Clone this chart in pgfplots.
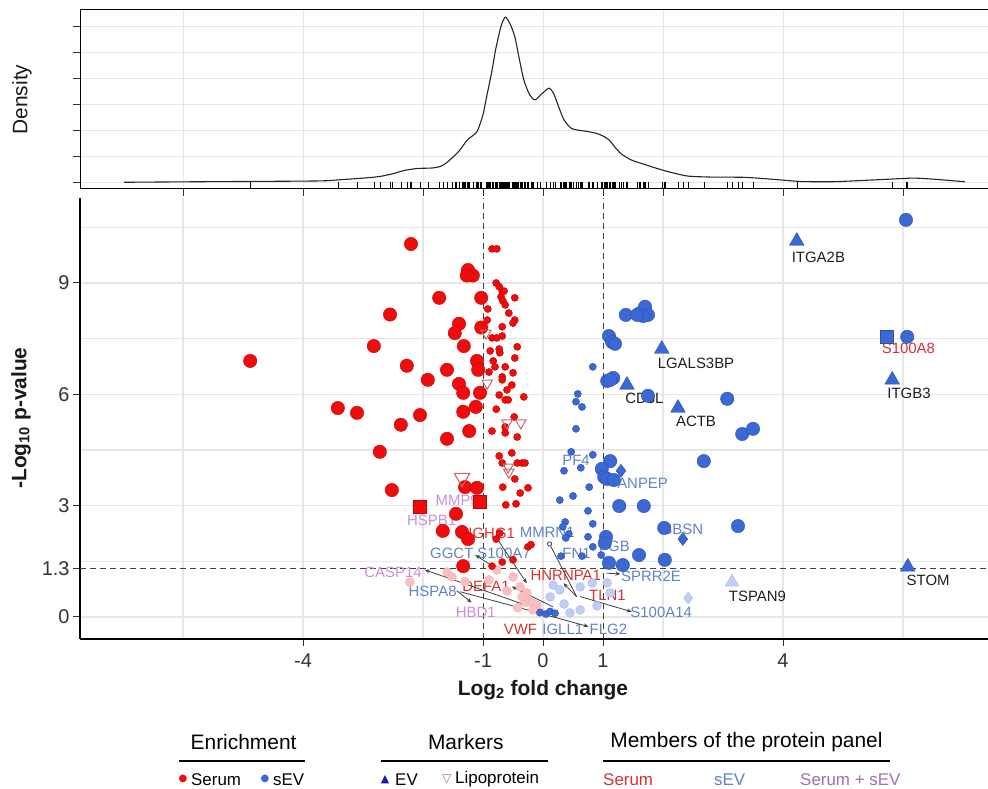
\documentclass[border=0pt]{standalone}
\usepackage{fontspec}
\setmainfont{Liberation Sans}
\newfontfamily\symfont{DejaVu Sans}
\usepackage{pgfplots}
\usepackage{pgfplotstable}
\pgfplotsset{compat=1.18}
\usetikzlibrary{arrows.meta}

\definecolor{ptred}{RGB}{238,12,12}
\definecolor{ptredE}{RGB}{200,0,0}
\definecolor{ptblue}{RGB}{60,104,212}
\definecolor{ptblueE}{RGB}{40,80,185}
\definecolor{fadered}{RGB}{248,192,192}
\definecolor{fadeblue}{RGB}{192,206,242}
\definecolor{lipo}{RGB}{195,105,105}
\definecolor{gridc}{RGB}{230,230,230}
\definecolor{labblack}{RGB}{30,30,30}
\definecolor{labred}{RGB}{215,50,50}
\definecolor{labblue}{RGB}{95,130,200}
\definecolor{labviol}{RGB}{205,140,220}
\definecolor{legviol}{RGB}{160,110,180}
\definecolor{ticktext}{RGB}{50,50,50}

\pgfplotstableread{
x y
-2.2 10.05
-1.25 9.35
-1.17 9.2
-1.27 9.2
-1.73 8.6
-1.03 8.6
-2.55 8.15
-1.4 7.9
-1.47 7.65
-1.03 7.8
-2.82 7.3
-1.32 7.3
-4.88 6.9
-2.27 6.77
-1.6 6.66
-1.1 6.9
-1.08 6.66
-1.92 6.39
-1.4 6.28
-1.33 6.04
-1.05 6.04
-3.42 5.63
-3.1 5.5
-2.05 5.44
-1.33 5.53
-1.12 5.66
-2.37 5.18
-1.23 5.01
-1.6 4.8
-2.72 4.45
-1.3 3.5
-1.1 3.48
-2.52 3.42
-1.45 2.78
-1.67 2.32
-1.35 2.29
-1.25 2.1
-1.33 1.37
}\redbig

\pgfplotstableread{
x y
-0.85 9.92
-0.77 9.92
-0.78 9.0
-0.73 8.9
-0.68 8.78
-0.65 8.78
-0.47 8.6
-0.7 8.63
-0.67 8.52
-0.63 8.41
-0.92 8.3
-0.57 8.19
-0.47 8.0
-0.5 7.92
-0.93 8.0
-0.68 7.82
-0.85 7.52
-0.77 7.52
-0.68 7.57
-0.43 7.28
-0.88 7.17
-0.73 7.22
-0.72 7.12
-0.47 6.98
-0.83 6.9
-0.63 6.74
-0.8 6.74
-0.5 6.58
-0.9 6.6
-0.68 6.47
-0.68 6.39
-0.52 6.25
-0.6 6.12
-0.73 5.98
-0.63 5.85
-0.58 5.85
-0.32 5.93
-0.78 5.6
-0.48 5.39
-0.85 5.01
-0.63 5.12
-0.63 4.96
-0.43 4.85
-0.52 4.42
-0.73 4.34
-0.68 4.15
-0.43 4.15
-0.35 4.15
-0.3 4.15
-0.47 3.72
-0.67 3.5
-0.25 3.48
-0.38 3.34
-0.62 3.02
-0.45 3.05
-0.78 2.1
-0.72 2.26
-0.25 1.89
-0.2 1.95
-0.85 1.37
-0.5 1.54
-0.68 1.48
}\redsmall

\pgfplotstableread{
x y
-2.05 2.96
-1.05 3.1
}\redsq

\pgfplotstableread{
x y
-0.95 7.65
-0.93 6.3
-0.6 5.23
-0.37 5.23
-0.58 4.04
-0.57 3.9
}\lipo

\pgfplotstableread{
x y
-1.35 3.75
}\lipobig

\pgfplotstableread{
x y
-2.22 0.94
-1.6 1.21
-1.52 1.08
-0.5 1.08
-0.38 0.81
-0.27 0.65
-0.25 0.46
-0.18 0.38
-0.1 0.32
-0.05 0.13
-0.3 0.4
-0.17 0.19
-0.77 1.27
-1.3 0.95
-0.9 1.0
-0.6 0.7
-0.42 0.25
-0.35 0.55
}\fadered

\pgfplotstableread{
x y
1.38 8.14
1.62 8.19
1.7 8.36
1.75 8.14
1.67 8.11
1.57 8.14
1.1 7.57
1.15 7.41
1.2 7.36
1.07 6.36
1.17 6.44
1.12 6.39
1.75 5.96
3.07 5.88
3.32 4.93
3.5 5.07
2.68 4.2
1.12 4.2
0.98 3.99
1.02 3.77
1.07 3.72
1.18 3.69
1.27 2.99
1.68 2.99
2.02 2.4
3.25 2.45
1.05 2.16
1.03 1.99
1.6 1.67
2.03 1.54
1.1 1.46
1.33 1.4
6.05 10.7
6.07 7.55
}\bluebig

\pgfplotstableread{
x y
0.83 6.74
0.58 6.01
0.55 5.8
0.65 5.66
0.55 5.07
0.47 4.45
0.83 4.37
0.35 3.94
0.63 4.02
0.77 3.5
0.28 3.15
0.5 3.26
0.75 2.86
0.37 2.56
0.33 2.43
0.43 2.24
0.38 2.13
0.83 2.51
0.75 2.16
0.3 1.64
0.65 1.64
0.83 1.89
0.97 1.67
-0.05 0.12
0.05 0.08
0.12 0.15
0.2 0.1
}\bluesmall

\pgfplotstableread{
x y
1.3 3.94
2.33 2.1
}\bluedia

\pgfplotstableread{
x y
4.23 10.13
1.98 7.22
1.4 6.25
2.25 5.63
5.82 6.39
6.08 1.35
}\bluetri

\pgfplotstableread{
x y
5.73 7.55
}\bluesq

\pgfplotstableread{
x y
0.17 0.86
0.12 0.54
0.28 0.73
0.62 0.81
0.82 0.92
0.45 0.11
0.62 0.19
1.07 0.92
1.12 0.65
0.35 0.35
0.9 0.3
}\fadeblue

\pgfplotstableread{
x y
2.42 0.51
}\fadebluedia

\pgfplotstableread{
x y
3.15 0.94
}\fadebluetri

\pgfplotstableread{
x d
-6.98 0.0
-5.78 0.02
-3.78 0.05
-3.37 0.1
-3.0 0.16
-2.73 0.22
-2.5 0.33
-2.32 0.45
-2.1 0.53
-1.84 0.55
-1.7 0.62
-1.58 0.8
-1.4 1.2
-1.26 1.63
-1.1 1.95
-1.0 2.6
-0.95 3.17
-0.85 4.3
-0.79 5.1
-0.7 6.0
-0.63 6.35
-0.55 6.1
-0.47 5.6
-0.4 4.8
-0.32 3.94
-0.22 3.35
-0.13 3.17
-0.02 3.4
0.1 3.62
0.18 3.4
0.26 2.91
0.35 2.4
0.47 2.08
0.6 2.0
0.75 1.95
0.89 1.88
1.0 1.78
1.1 1.63
1.2 1.35
1.3 1.1
1.47 0.86
1.7 0.68
1.89 0.54
2.1 0.4
2.41 0.24
2.8 0.2
3.36 0.19
3.8 0.12
4.3 0.03
4.8 0.02
5.14 0.05
5.6 0.1
6.04 0.15
6.2 0.16
6.51 0.12
7.03 0.02
}\density

\begin{document}
\begin{tikzpicture}[x=1bp,y=1bp]
\useasboundingbox (0,0) rectangle (988,789);

% ---------- top density panel ----------
\begin{axis}[
  at={(80bp,600bp)}, anchor=south west, scale only axis,
  width=908bp, height=179bp,
  xmin=-7.717, xmax=7.417, ymin=-0.258, ymax=6.627,
  xtick={-6,-4,-2,-1,0,1,2,4,6}, ytick={0,1,2,3,4,5,6},
  xticklabels={}, yticklabels={},
  minor xtick={-6,-4,-2,0,2,4,6}, minor ytick={0,1,2,3,4,5,6},
  xminorgrids, yminorgrids,
  minor grid style={gridc, line width=0.9bp},
  minor tick length=0pt, major tick length=7bp,
  tick align=outside, tick pos=left,
  every tick/.style={black!80, line width=0.9bp},
  axis line style={black, line width=1bp},
  clip=true,
]
\addplot[black!85, line width=1.1bp, smooth, tension=0.4] table[x=x, y=d] {\density};
\addplot[only marks, mark=|, mark size=3.5bp, mark options={black, line width=0.6bp}] table[x=x, y expr=-0.13] {\redbig};
\addplot[only marks, mark=|, mark size=3.5bp, mark options={black, line width=0.6bp}] table[x=x, y expr=-0.13] {\redsmall};
\addplot[only marks, mark=|, mark size=3.5bp, mark options={black, line width=0.6bp}] table[x=x, y expr=-0.13] {\redsq};
\addplot[only marks, mark=|, mark size=3.5bp, mark options={black, line width=0.6bp}] table[x=x, y expr=-0.13] {\lipo};
\addplot[only marks, mark=|, mark size=3.5bp, mark options={black, line width=0.6bp}] table[x=x, y expr=-0.13] {\fadered};
\addplot[only marks, mark=|, mark size=3.5bp, mark options={black, line width=0.6bp}] table[x=x, y expr=-0.13] {\bluebig};
\addplot[only marks, mark=|, mark size=3.5bp, mark options={black, line width=0.6bp}] table[x=x, y expr=-0.13] {\bluesmall};
\addplot[only marks, mark=|, mark size=3.5bp, mark options={black, line width=0.6bp}] table[x=x, y expr=-0.13] {\bluedia};
\addplot[only marks, mark=|, mark size=3.5bp, mark options={black, line width=0.6bp}] table[x=x, y expr=-0.13] {\bluetri};
\addplot[only marks, mark=|, mark size=3.5bp, mark options={black, line width=0.6bp}] table[x=x, y expr=-0.13] {\fadeblue};
\addplot[only marks, mark=|, mark size=3.5bp, mark options={black, line width=0.6bp}] table[x=x, y expr=-0.13] {\fadebluedia};
\addplot[only marks, mark=|, mark size=3.5bp, mark options={black, line width=0.6bp}] table[x=x, y expr=-0.13] {\fadebluetri};
\end{axis}

% ---------- main volcano panel ----------
\begin{axis}[
  at={(80bp,150bp)}, anchor=south west, scale only axis,
  width=908bp, height=441bp,
  xmin=-7.717, xmax=7.417, ymin=-0.593, ymax=11.29,
  axis x line*=bottom, axis y line*=left,
  axis line style={-, black, line width=1.3bp},
  xtick={-4,-1,0,1,4}, xticklabels={-4,-1,0,1,4},
  ytick={0,1.3,3,6,9}, yticklabels={0,1.3,3,6,9},
  minor xtick={-6,-4,-2,0,2,4,6}, minor ytick={0,1.5,3,4.5,6,7.5,9,10.5},
  xminorgrids, yminorgrids,
  minor grid style={gridc, line width=1.6bp},
  minor tick length=0pt, major tick length=7bp, tick align=outside,
  every tick/.style={black!80, line width=1bp},
  tick label style={font=\fontsize{20}{24}\selectfont, text=ticktext},
  xticklabel style={yshift=-4bp},
  clip=false,
]
% threshold lines
\addplot[black!75, line width=1bp, dash pattern=on 6bp off 4bp] coordinates {(-1,-0.593) (-1,11.29)};
\addplot[black!75, line width=1bp, dash pattern=on 6bp off 4bp] coordinates {(1,-0.593) (1,11.29)};
\addplot[black!75, line width=1bp, dash pattern=on 6bp off 4bp] coordinates {(-7.717,1.3) (7.417,1.3)};

% faded (non-significant) points
\addplot[only marks, mark=*, mark size=4.5bp, mark options={fill=fadered, draw=fadered!90!red}] table {\fadered};
\addplot[only marks, mark=*, mark size=4.5bp, mark options={fill=fadeblue, draw=fadeblue!90!blue}] table {\fadeblue};
\addplot[only marks, mark=diamond*, mark size=6bp, mark options={fill=fadeblue, draw=fadeblue!90!blue}] table {\fadebluedia};
\addplot[only marks, mark=triangle*, mark size=8bp, mark options={fill=fadeblue, draw=fadeblue!90!blue}] table {\fadebluetri};

% gene labels
\begin{scope}[every node/.style={font=\fontsize{15}{18}\selectfont, inner sep=0pt}]
\node[text=labblack] at (axis cs:4.59,9.7) {ITGA2B};
\node[text=labblack] at (axis cs:2.55,6.84) {LGALS3BP};
\node[text=labblack] at (axis cs:1.69,5.9) {CD5L};
\node[text=labblack] at (axis cs:2.55,5.26) {ACTB};
\node[text=labred] at (axis cs:6.09,7.24) {S100A8};
\node[text=labblack] at (axis cs:6.1,6.03) {ITGB3};
\node[text=labblack] at (axis cs:6.42,0.98) {STOM};
\node[text=labblack] at (axis cs:3.575,0.55) {TSPAN9};
\node[text=labblue] at (axis cs:0.55,4.23) {PF4};
\node[text=labblue] at (axis cs:1.66,3.6) {ANPEP};
\node[text=labblue] at (axis cs:2.33,2.35) {SBSN};
\node[text=labblue] at (axis cs:1.19,1.91) {FGB};
\node[text=labblue] at (axis cs:0.56,1.72) {FN1};
\node[text=labblue] at (axis cs:0.07,2.27) {MMRN1};
\node[text=labblue] at (axis cs:-0.65,1.72) {S100A7};
\node[text=labblue] at (axis cs:-1.52,1.72) {GGCT};
\node[text=labred] at (axis cs:-0.855,2.26) {IGHG1};
\node[text=labred] at (axis cs:0.38,1.13) {HNRNPA1};
\node[text=labred] at (axis cs:1.075,0.57) {TLN1};
\node[text=labblue] at (axis cs:1.8,1.1) {SPRR2E};
\node[text=labblue] at (axis cs:1.97,0.12) {S100A14};
\node[text=labblue] at (axis cs:1.09,-0.33) {FLG2};
\node[text=labblue] at (axis cs:0.33,-0.33) {IGLL1};
\node[text=labred] at (axis cs:-0.375,-0.33) {VWF};
\node[text=labred] at (axis cs:-0.95,0.82) {DEFA1};
\node[text=labblue] at (axis cs:-1.84,0.68) {HSPA8};
\node[text=labviol] at (axis cs:-1.12,0.12) {HBD1};
\node[text=labviol] at (axis cs:-2.5,1.21) {CASP14};
\node[text=labviol] at (axis cs:-1.43,3.15) {MMP9};
\node[text=labviol] at (axis cs:-1.855,2.61) {HSPB1};
\end{scope}

% label connectors
\begin{scope}[black!75, line width=0.8bp, arrows={-Stealth[length=5bp,width=4bp]}]
\draw (axis cs:-0.25,0.3) -- (axis cs:-1.97,1.27);
\draw (axis cs:0.17,0.27) -- (axis cs:-0.52,0.82);
\draw (axis cs:-1.44,0.71) -- (axis cs:-1.19,0.39);
\draw[-] (axis cs:-1.38,0.68) -- (axis cs:-0.05,0.1);
\draw (axis cs:-0.05,0.1) -- (axis cs:0.76,-0.26);
\draw (axis cs:-0.83,1.36) -- (axis cs:-1.13,1.67);
\draw (axis cs:-0.77,2.12) -- (axis cs:-0.27,0.91);
\draw[{Circle[open,length=5bp]}-] (axis cs:0.09,2.03) -- (axis cs:0.56,0.55);
\draw (axis cs:0.56,0.55) -- (axis cs:0.34,0.91);
\draw (axis cs:0.62,0.55) -- (axis cs:1.48,0.14);
\draw (axis cs:1.06,1.18) -- (axis cs:1.29,1.16);
\end{scope}

% significant points
\addplot[only marks, mark=*, mark size=3.6bp, mark options={fill=ptred, draw=ptredE, line width=0.4bp}] table {\redsmall};
\addplot[only marks, mark=*, mark size=6.7bp, mark options={fill=ptred, draw=ptredE, line width=0.4bp}] table {\redbig};
\addplot[only marks, mark=square*, mark size=6.5bp, mark options={fill=ptred, draw=ptredE, line width=0.4bp}] table {\redsq};
\addplot[only marks, mark=triangle, mark size=6bp, mark options={rotate=180, draw=lipo, line width=1bp}] table {\lipo};
\addplot[only marks, mark=triangle, mark size=9bp, mark options={rotate=180, draw=lipo, line width=1.1bp}] table {\lipobig};
\addplot[only marks, mark=*, mark size=3.6bp, mark options={fill=ptblue, draw=ptblueE, line width=0.4bp}] table {\bluesmall};
\addplot[only marks, mark=*, mark size=6.7bp, mark options={fill=ptblue, draw=ptblueE, line width=0.4bp}] table {\bluebig};
\addplot[only marks, mark=diamond*, mark size=6.5bp, mark options={fill=ptblue, draw=ptblueE, line width=0.4bp}] table {\bluedia};
\addplot[only marks, mark=triangle*, mark size=8.5bp, mark options={fill=ptblue, draw=ptblueE, line width=0.4bp}] table {\bluetri};
\addplot[only marks, mark=square*, mark size=6.5bp, mark options={fill=ptblue, draw=ptblueE, line width=0.4bp}] table {\bluesq};
\end{axis}

% ---------- axis titles ----------
\node[font=\bfseries\fontsize{21}{25}\selectfont, text=black!90] at (543,99) {Log\textsubscript{2} fold change};
\node[rotate=90, font=\bfseries\fontsize{21}{25}\selectfont, text=black!90] at (21,371) {-Log\textsubscript{10} p-value};
\node[rotate=90, font=\fontsize{21}{25}\selectfont, text=black!90] at (22,689.5) {Density};

% ---------- legend ----------
\begin{scope}[every node/.style={inner sep=0pt}]
\node[font=\fontsize{21}{25}\selectfont] at (243.6,47.3) {Enrichment};
\draw[black, line width=1.3bp] (179,28) -- (305,28);
\node[font=\symfont\fontsize{10}{12}\selectfont, text=ptred] at (183,9.7) {●};
\node[font=\fontsize{17}{20}\selectfont, anchor=west] at (191,9.7) {Serum};
\node[font=\symfont\fontsize{10}{12}\selectfont, text=ptblue] at (265,9.7) {●};
\node[font=\fontsize{17}{20}\selectfont, anchor=west] at (273,9.7) {sEV};

\node[font=\fontsize{21}{25}\selectfont] at (465.8,47.3) {Markers};
\draw[black, line width=1.3bp] (381,28) -- (548,28);
\node[font=\symfont\fontsize{11}{12}\selectfont, text={rgb,255:red,25;green,25;blue,175}] at (385,9.7) {▲};
\node[font=\fontsize{17}{20}\selectfont, anchor=west] at (395,9.7) {EV};
\node[font=\symfont\fontsize{12}{12}\selectfont, text=lipo] at (446.6,9.7) {▽};
\node[font=\fontsize{17}{20}\selectfont, anchor=west] at (455,9.7) {Lipoprotein};

\node[font=\fontsize{21}{25}\selectfont] at (746.5,47.3) {Members of the protein panel};
\draw[black, line width=1.3bp] (603,28) -- (890,28);
\node[font=\fontsize{17}{20}\selectfont, anchor=west, text=labred] at (603,9.7) {Serum};
\node[font=\fontsize{17}{20}\selectfont, anchor=west, text=labblue] at (714,9.7) {sEV};
\node[font=\fontsize{17}{20}\selectfont, anchor=west, text=legviol] at (800,9.7) {Serum + sEV};
\end{scope}
\end{tikzpicture}
\end{document}
